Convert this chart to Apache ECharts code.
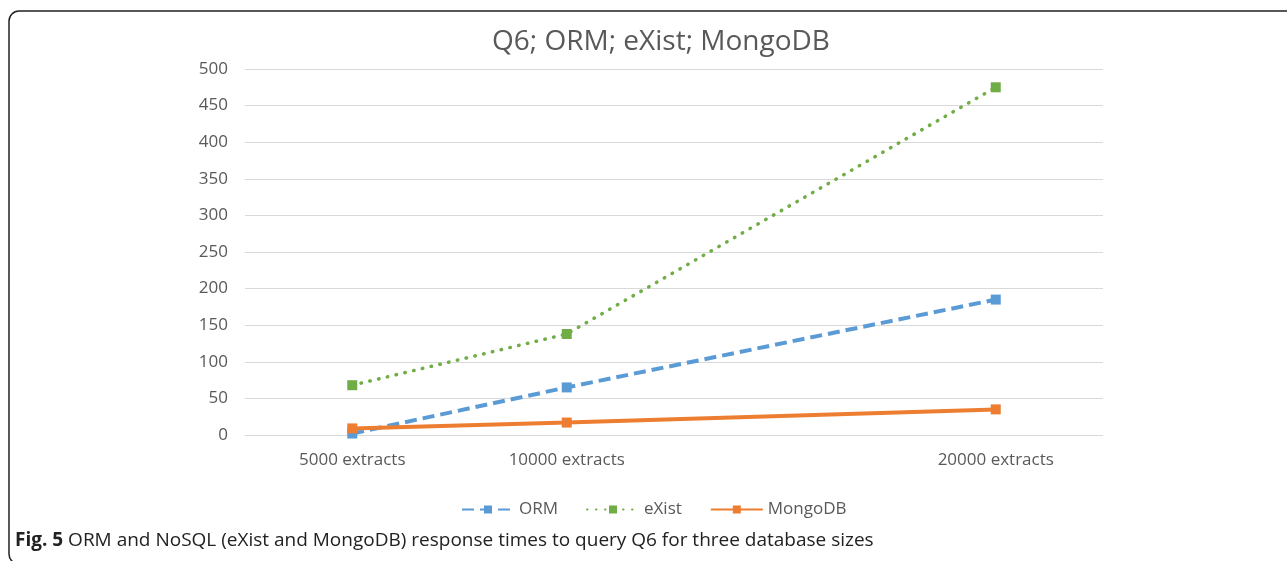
<!DOCTYPE html>
<html>
<head>
<meta charset="utf-8">
<script src="https://cdn.jsdelivr.net/npm/echarts@6/dist/echarts.min.js"></script>
<style>
  html, body { margin: 0; padding: 0; background: #fff; }
  #chart { width: 1287px; height: 561px; }
</style>
</head>
<body>
<div id="chart"></div>
<script>
// database sizes (number of extracts)
var sizes = [5000, 10000, 20000];
var seriesNames = ['ORM', 'eXist', 'MongoDB'];
// response times
var ormTimes = [2, 65, 185];
var existTimes = [68, 138, 475];
var mongoTimes = [9, 17, 35];
var yTicks = [0, 50, 100, 150, 200, 250, 300, 350, 400, 450, 500];

function pairs(values) {
  return sizes.map(function (s, i) { return [s, values[i]]; });
}

var chart = echarts.init(document.getElementById('chart'));

var font = '"Open Sans", "Noto Sans", sans-serif';

chart.setOption({
  animation: false,
  textStyle: { fontFamily: font },
  title: {
    text: 'Q6; ORM; eXist; MongoDB',
    left: 656,
    top: 23,
    textAlign: 'center',
    textStyle: { fontFamily: font, fontSize: 28, fontWeight: 'normal', color: '#595959' }
  },
  legend: {
    data: seriesNames,
    left: 456,
    top: 496,
    itemWidth: 52,
    itemHeight: 10,
    itemGap: 28,
    textStyle: { fontFamily: font, fontSize: 17, color: '#595959' }
  },
  grid: {
    left: 245,
    right: 184,
    top: 69,
    bottom: 126
  },
  xAxis: {
    type: 'value',
    min: 2500,
    max: 22500,
    axisLine: { show: false },
    axisTick: { show: false },
    splitLine: { show: false },
    axisLabel: {
      customValues: sizes,
      formatter: function (v) { return v + ' extracts'; },
      fontFamily: font,
      fontSize: 17,
      color: '#595959',
      margin: 17
    }
  },
  yAxis: {
    type: 'value',
    min: yTicks[0],
    max: yTicks[yTicks.length - 1],
    interval: 50,
    axisLine: { show: false },
    axisTick: { show: false },
    axisLabel: { fontFamily: font, fontSize: 17, color: '#595959', margin: 17 },
    splitLine: { lineStyle: { color: '#d9d9d9', width: 1 } }
  },
  series: [
    {
      name: 'ORM',
      type: 'line',
      data: pairs(ormTimes),
      symbol: 'rect',
      symbolSize: 10,
      color: '#5b9bd5',
      lineStyle: { width: 4, type: [12, 6] }
    },
    {
      name: 'eXist',
      type: 'line',
      data: pairs(existTimes),
      symbol: 'rect',
      symbolSize: 10,
      color: '#70ad47',
      lineStyle: { width: 3.5, type: [0.5, 8.5], cap: 'round' }
    },
    {
      name: 'MongoDB',
      type: 'line',
      data: pairs(mongoTimes),
      symbol: 'rect',
      symbolSize: 10,
      color: '#ed7d31',
      lineStyle: { width: 4 }
    }
  ],
  graphic: [
    {
      type: 'rect',
      shape: { x: 9, y: 11, width: 1320, height: 553, r: 10 },
      style: { fill: 'none', stroke: '#222', lineWidth: 1.5 },
      silent: true
    },
    {
      type: 'text',
      left: 15,
      top: 531,
      style: {
        text: '{b|Fig. 5} ORM and NoSQL (eXist and MongoDB) response times to query Q6 for three database sizes',
        fontFamily: font,
        fontSize: 19,
        fill: '#222',
        rich: {
          b: { fontFamily: font, fontSize: 19, fontWeight: 'bold', fill: '#222' }
        }
      }
    }
  ]
});
</script>
</body>
</html>
